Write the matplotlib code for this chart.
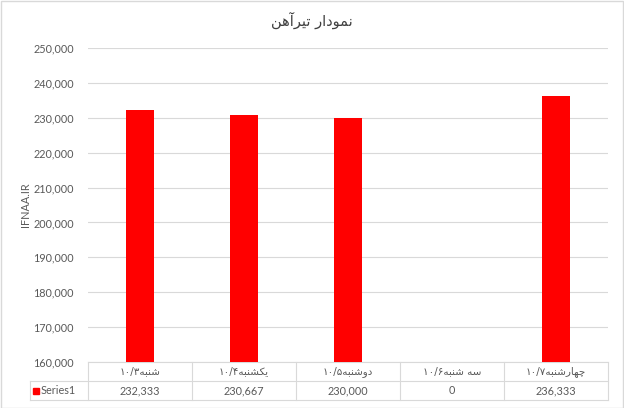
import matplotlib
matplotlib.use("Agg")
import matplotlib.pyplot as plt
import matplotlib.transforms as mtransforms
from matplotlib.patches import Rectangle

plt.rcParams['font.family'] = ['Lato', 'DejaVu Sans']

# داده‌ها
days = ['شنبه', 'یکشنبه', 'دوشنبه', 'سه شنبه', 'چهارشنبه']
dates = ['۱۰/۳', '۱۰/۴', '۱۰/۵', '۱۰/۶', '۱۰/۷']
values = [232333, 230667, 230000, 0, 236333]
value_labels = ['232,333', '230,667', '230,000', '0', '236,333']
series_name = 'Series1'
title = 'نمودار تیرآهن'
ylabel = 'IFNAA.IR'
yticks = [160000, 170000, 180000, 190000, 200000, 210000, 220000, 230000, 240000, 250000]

# شکل‌دهی ساده حروف فارسی (matplotlib خودش اتصال حروف را انجام نمی‌دهد)
FORMS = {
    'ن': (0xFEE5, 0xFEE6, 0xFEE7, 0xFEE8),
    'م': (0xFEE1, 0xFEE2, 0xFEE3, 0xFEE4),
    'ت': (0xFE95, 0xFE96, 0xFE97, 0xFE98),
    'ی': (0xFBFC, 0xFBFD, 0xFBFE, 0xFBFF),
    'ه': (0xFEE9, 0xFEEA, 0xFEEB, 0xFEEC),
    'ش': (0xFEB5, 0xFEB6, 0xFEB7, 0xFEB8),
    'س': (0xFEB1, 0xFEB2, 0xFEB3, 0xFEB4),
    'ب': (0xFE8F, 0xFE90, 0xFE91, 0xFE92),
    'ک': (0xFB8E, 0xFB8F, 0xFB90, 0xFB91),
    'چ': (0xFB7A, 0xFB7B, 0xFB7C, 0xFB7D),
    'و': (0xFEED, 0xFEEE),
    'د': (0xFEA9, 0xFEAA),
    'ا': (0xFE8D, 0xFE8E),
    'ر': (0xFEAD, 0xFEAE),
    'آ': (0xFE81, 0xFE82),
}


def shape(text):
    out = []
    for i, ch in enumerate(text):
        if ch not in FORMS:
            out.append(ch)
            continue
        prev = text[i - 1] if i > 0 else ''
        nxt = text[i + 1] if i < len(text) - 1 else ''
        join_prev = prev in FORMS and len(FORMS[prev]) == 4
        join_next = len(FORMS[ch]) == 4 and nxt in FORMS
        f = FORMS[ch]
        if join_prev and join_next:
            out.append(chr(f[3]))
        elif join_prev:
            out.append(chr(f[1]))
        elif join_next:
            out.append(chr(f[2]))
        else:
            out.append(chr(f[0]))
    return ''.join(out[::-1])


grey = '#595959'
line = '#d9d9d9'

fig = plt.figure(figsize=(6.24, 4.08), dpi=100)
fig.patches.append(Rectangle((0.001, 0.001), 0.997, 0.996, transform=fig.transFigure,
                             fill=False, edgecolor=line, linewidth=1))

ax = fig.add_axes([88 / 624, 46 / 408, 520 / 624, 314 / 408])
x = list(range(len(days)))
ax.bar(x, values, width=0.27, color='#ff0000', zorder=3)
ax.set_xlim(-0.5, len(days) - 0.5)
ax.set_ylim(160000, 250000)
ax.set_yticks(yticks)
ax.set_yticklabels([f'{v:,}' for v in yticks], fontsize=7.8, color=grey)
ax.tick_params(axis='y', length=0, pad=10)
ax.set_xticks([])
ax.grid(axis='y', color=line, linewidth=0.8, zorder=0)
for s in ax.spines.values():
    s.set_visible(False)
ax.set_ylabel(ylabel, fontsize=7.8, color=grey, labelpad=2)

fig.text(0.5, 1 - 20 / 408, shape(title), ha='center', va='center',
         fontsize=10.5, color='#404040', family=['DejaVu Sans'])

# جدول داده زیر نمودار
tr = mtransforms.blended_transform_factory(ax.transData, ax.transAxes)
r1 = -19 / 314
r2 = -38 / 314
kw = dict(transform=tr, clip_on=False, color=line, linewidth=0.8)
ax.plot([-0.5, len(days) - 0.5], [0, 0], **kw)
x_leg = -0.5 - 58 / 104
ax.plot([x_leg, len(days) - 0.5], [r1, r1], **kw)
ax.plot([x_leg, len(days) - 0.5], [r2, r2], **kw)
ax.plot([x_leg, x_leg], [r1, r2], **kw)
for i in range(len(days) + 1):
    ax.plot([i - 0.5, i - 0.5], [0, r2], **kw)

for i in x:
    ax.text(i, r1 / 2, dates[i] + shape(days[i]), transform=tr, ha='center', va='center',
            fontsize=7.5, color=grey, family=['DejaVu Sans'])
    ax.text(i, (r1 + r2) / 2, value_labels[i], transform=tr, ha='center', va='center',
            fontsize=7.8, color=grey)

ax.add_patch(Rectangle((x_leg + 3 / 104, (r1 + r2) / 2 - 3 / 314), 6 / 104, 6 / 314,
                       transform=tr, clip_on=False, color='#ff0000'))
ax.text(x_leg + 11 / 104, (r1 + r2) / 2, series_name, transform=tr, ha='left', va='center',
        fontsize=7.8, color=grey)

fig.savefig('out.png', dpi=100)
